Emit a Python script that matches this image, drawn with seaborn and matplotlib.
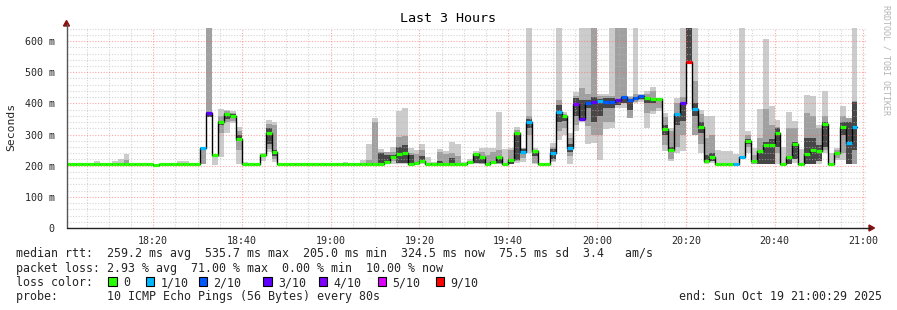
import matplotlib
matplotlib.use("Agg")
import matplotlib.pyplot as plt
from matplotlib.lines import Line2D
from matplotlib.patches import Polygon, Rectangle
import seaborn as sns
import numpy as np

# ---------------- data (one value per 80 s step, starting 18:00:00) ----------------
step_minutes = 80 / 60
start_offset = 29 / 60          # graph starts at 18:00:29

median = [
    205, 205, 205, 205, 205, 205, 205, 205, 205, 205,
    205, 204, 205, 205, 205, 203, 205, 205, 205, 205,
    205, 205, 205, 258, 370, 234, 339, 365, 359, 287,
    205, 205, 205, 233, 304, 245, 205, 205, 205, 205,
    205, 205, 205, 205, 205, 205, 206, 205, 204, 205,
    205, 205, 205, 206, 211, 229, 236, 242, 205, 208,
    215, 205, 205, 205, 205, 205, 205, 205, 211, 236,
    229, 205, 211, 229, 205, 218, 304, 245, 339, 247,
    205, 205, 242, 371, 359, 258, 397, 351, 400, 405,
    409, 405, 405, 411, 420, 411, 418, 423, 417, 413,
    413, 317, 251, 366, 402, 533, 381, 325, 216, 229,
    205, 205, 205, 205, 229, 279, 215, 248, 266, 266,
    306, 207, 229, 269, 207, 236, 250, 247, 334, 205,
    240, 323, 274, 323, None]

loss = [
    0, 0, 0, 0, 0, 0, 0, 0, 0, 0,
    0, 0, 0, 0, 0, 0, 0, 0, 0, 0,
    0, 0, 0, 1, 3, 0, 0, 0, 0, 0,
    0, 0, 0, 0, 0, 0, 0, 0, 0, 0,
    0, 0, 0, 0, 0, 0, 0, 0, 0, 0,
    0, 0, 0, 0, 0, 0, 0, 0, 0, 0,
    0, 0, 0, 0, 0, 0, 0, 0, 0, 0,
    0, 0, 0, 0, 0, 0, 0, 1, 1, 0,
    0, 0, 1, 1, 0, 1, 4, 3, 2, 3,
    1, 2, 2, 3, 2, 2, 2, 2, 0, 0,
    0, 0, 0, 1, 3, 9, 1, 0, 0, 0,
    0, 0, 0, 1, 1, 0, 0, 0, 0, 0,
    0, 0, 0, 0, 0, 0, 0, 0, 0, 0,
    0, 0, 1, 1, 0]

smoke_lo = [
    204, 204, 204, 204, 204, 204, 204, 204, 204, 204,
    204, 203, 204, 204, 204, 202, 204, 204, 204, 204,
    204, 204, 204, 204, 356, 203, 229, 306, 336, 205,
    204, 204, 204, 216, 245, 213, 204, 204, 204, 204,
    204, 204, 204, 204, 204, 204, 204, 204, 203, 204,
    204, 204, 204, 204, 205, 205, 205, 205, 204, 204,
    204, 204, 204, 204, 204, 204, 204, 204, 205, 205,
    205, 204, 205, 205, 204, 205, 210, 211, 240, 205,
    204, 204, 211, 282, 300, 204, 311, 340, 271, 273,
    218, 319, 320, 385, 385, 354, 400, 405, 320, 365,
    376, 247, 214, 240, 247, 533, 298, 240, 204, 210,
    204, 204, 204, 204, 225, 240, 204, 205, 205, 205,
    204, 204, 205, 210, 204, 205, 205, 205, 240, 204,
    218, 218, 205, 205, None]

smoke_hi = [
    207, 207, 207, 207, 207, 215, 207, 207, 215, 221,
    238, 206, 207, 207, 207, 205, 207, 207, 207, 214,
    216, 207, 207, 260, 650, 236, 381, 378, 374, 324,
    211, 207, 207, 240, 347, 339, 207, 207, 207, 207,
    207, 208, 207, 207, 207, 207, 210, 212, 206, 207,
    218, 269, 352, 253, 243, 261, 376, 385, 258, 250,
    269, 228, 212, 253, 246, 277, 269, 212, 223, 246,
    258, 258, 258, 373, 252, 258, 323, 258, 650, 258,
    207, 207, 273, 650, 373, 304, 437, 650, 650, 650,
    430, 430, 650, 650, 650, 425, 650, 430, 440, 451,
    418, 370, 320, 418, 650, 650, 650, 379, 361, 361,
    250, 248, 247, 239, 650, 312, 257, 381, 606, 390,
    346, 260, 371, 343, 254, 427, 423, 332, 440, 240,
    256, 392, 354, 650, None]

# inner smoke layers: step index -> (low, high)
mid_band = {
    10: (205, 218), 23: (206, 258), 24: (362, 650), 26: (306, 360), 27: (340, 375),
    28: (345, 370), 29: (250, 310), 34: (255, 335), 35: (220, 330), 51: (205, 218),
    52: (206, 340), 53: (208, 245), 54: (207, 243), 55: (215, 245), 56: (208, 293),
    57: (208, 296), 58: (206, 240), 59: (206, 236), 60: (208, 250), 63: (205, 245),
    64: (205, 236), 65: (206, 242), 66: (206, 230), 70: (207, 245), 71: (206, 235),
    72: (207, 245), 73: (207, 250), 75: (206, 250), 76: (215, 315), 77: (225, 256),
    78: (300, 361), 79: (210, 250), 82: (215, 260), 83: (310, 410), 84: (320, 365),
    85: (230, 290), 86: (330, 425), 87: (345, 450), 88: (326, 430), 89: (300, 650),
    90: (300, 425), 91: (340, 425), 92: (340, 425), 93: (411, 650), 94: (420, 650),
    95: (354, 420), 96: (405, 430), 97: (410, 428), 98: (370, 430), 99: (376, 440),
    100: (385, 415), 101: (265, 355), 102: (220, 310), 103: (260, 400), 104: (300, 420),
    105: (533, 650), 106: (298, 473), 107: (270, 365), 108: (210, 290), 109: (215, 300),
    115: (260, 300), 116: (206, 235), 117: (205, 290), 118: (230, 381), 119: (230, 330),
    120: (240, 325), 122: (210, 320), 123: (240, 320), 125: (220, 370), 126: (215, 360),
    127: (215, 320), 128: (250, 360), 130: (225, 250), 131: (240, 360), 132: (206, 354),
    133: (206, 407)}

core_band = {
    24: (356, 372), 26: (330, 345), 27: (350, 370), 28: (352, 365), 29: (280, 300),
    34: (270, 320), 35: (230, 250), 52: (204, 210), 53: (210, 240), 54: (215, 235),
    55: (220, 235), 56: (210, 260), 57: (210, 265), 58: (210, 235), 60: (212, 230),
    62: (205, 210), 63: (205, 215), 65: (206, 225), 69: (210, 236), 70: (208, 225),
    73: (208, 229), 75: (207, 220), 76: (218, 304), 77: (240, 255), 78: (320, 350),
    79: (230, 245), 82: (220, 255), 83: (340, 395), 84: (345, 362), 85: (245, 270),
    86: (358, 418), 87: (350, 410), 88: (385, 410), 89: (340, 420), 90: (360, 415),
    91: (385, 418), 92: (385, 418), 93: (395, 411), 94: (400, 420), 95: (380, 411),
    96: (410, 420), 97: (415, 425), 98: (400, 420), 99: (400, 415), 101: (300, 330),
    102: (245, 260), 103: (330, 370), 104: (345, 402), 105: (533, 650), 106: (360, 400),
    107: (305, 340), 108: (212, 235), 109: (215, 240), 115: (270, 285), 117: (205, 248),
    118: (205, 275), 119: (207, 285), 120: (260, 320), 122: (207, 232), 123: (222, 277),
    125: (207, 290), 126: (207, 290), 127: (215, 265), 128: (260, 340), 131: (300, 340),
    132: (206, 340), 133: (250, 405)}

loss_levels = [0, 1, 2, 3, 4, 5, 9]
loss_labels = ["0", "1/10", "2/10", "3/10", "4/10", "5/10", "9/10"]
loss_colors = ["#26ff00", "#00b8ff", "#0059ff", "#5e00ff", "#7e00ff", "#dd00ff", "#ff0000"]

x_tick_minutes = [20, 40, 60, 80, 100, 120, 140, 160, 180]
x_tick_labels = ["18:20", "18:40", "19:00", "19:20", "19:40", "20:00", "20:20", "20:40", "21:00"]
y_tick_values = [0, 100, 200, 300, 400, 500, 600]
y_tick_labels = ["0", "100 m", "200 m", "300 m", "400 m", "500 m", "600 m"]

title = "Last 3 Hours"
legend_rtt = "median rtt:  259.2 ms avg  535.7 ms max  205.0 ms min  324.5 ms now  75.5 ms sd  3.4   am/s"
legend_loss = "packet loss: 2.93 % avg  71.00 % max  0.00 % min  10.00 % now"
legend_probe = "probe:       10 ICMP Echo Pings (56 Bytes) every 80s"
legend_end = "end: Sun Oct 19 21:00:29 2025"

# ---------------- figure ----------------
sns.set_style("white")
plt.rcParams["font.family"] = ["DejaVu Sans Mono", "DejaVu Sans"]

W, H = 897, 310
fig = plt.figure(figsize=(W / 100, H / 100), dpi=100, facecolor="white")


def fx(px):
    return px / W


def fy(py):
    return 1 - py / H


ax = fig.add_axes([fx(66.5), fy(228), 799 / W, 199.7 / H])
ax.set_facecolor("white")
ax.set_xlim(start_offset, 180 + start_offset)
ax.set_ylim(0, 641)

n = len(median)
valid = [k for k in range(n) if median[k] is not None]
left = np.array([k * step_minutes for k in valid])

# smoke: outer range
lo = np.array([smoke_lo[k] for k in valid], float)
hi = np.array([smoke_hi[k] for k in valid], float)
ax.bar(left, hi - lo, bottom=lo, width=step_minutes, align="edge",
       color="#cccccc", linewidth=0, antialiased=False, zorder=1)
# middle layer
mk = sorted(mid_band)
ax.bar([k * step_minutes for k in mk], [mid_band[k][1] - mid_band[k][0] for k in mk],
       bottom=[mid_band[k][0] for k in mk], width=step_minutes, align="edge",
       color="#a0a0a0", linewidth=0, antialiased=False, zorder=1.1)
# core layer
ck = sorted(core_band)
ax.bar([k * step_minutes for k in ck], [core_band[k][1] - core_band[k][0] for k in ck],
       bottom=[core_band[k][0] for k in ck], width=step_minutes, align="edge",
       color="#464646", linewidth=0, antialiased=False, zorder=1.2)

# median connector line (black steps)
med = np.array([median[k] for k in valid], float)
xs = np.append(left, left[-1] + step_minutes)
ys = np.append(med, med[-1])
sns.lineplot(x=xs, y=ys, ax=ax, color="black", lw=1.0, drawstyle="steps-post",
             estimator=None, sort=False, zorder=3)

# coloured median segments by loss
def loss_color(l):
    col = loss_colors[0]
    for lev, c in zip(loss_levels, loss_colors):
        if l >= lev:
            col = c
    return col

seg_colors = [loss_color(loss[k]) for k in valid]
ax.hlines(med, left, left + step_minutes, colors=seg_colors, lw=2.3, zorder=4,
          capstyle="butt")

# grid
ax.set_xticks(x_tick_minutes)
ax.set_xticklabels(x_tick_labels)
ax.set_xticks(np.arange(5, 181, 5), minor=True)
ax.set_yticks(y_tick_values)
ax.set_yticklabels(y_tick_labels)
ax.set_yticks(np.arange(20, 641, 20), minor=True)
ax.set_axisbelow(False)
ax.grid(which="minor", color="#bababa", alpha=0.6, lw=0.8, linestyle=(0, (1, 1.5)))
ax.grid(which="major", color="#ff6060", alpha=0.55, lw=0.8, linestyle=(0, (1, 1.5)))
for s in ax.spines.values():
    s.set_visible(False)
ax.tick_params(axis="both", which="major", labelsize=7.2, length=2.5, width=0.8,
               color="#888888", pad=4)
ax.tick_params(axis="both", which="minor", length=1.5, width=0.6, color="#aaaaaa")
ax.tick_params(axis="y", pad=6)
ax.tick_params(axis="x", pad=3)

# axes lines and arrows
fig.add_artist(Line2D([fx(66.5), fx(66.5)], [fy(228), fy(24)], color="#555555", lw=1.0))
fig.add_artist(Line2D([fx(66.5), fx(870)], [fy(228), fy(228)], color="#222222", lw=1.0))
fig.add_artist(Polygon([[fx(63.5), fy(26)], [fx(69.5), fy(26)], [fx(66.5), fy(20.5)]],
                       closed=True, color="#8b1010", transform=fig.transFigure))
fig.add_artist(Polygon([[fx(869), fy(225)], [fx(869), fy(231)], [fx(874.5), fy(228)]],
                       closed=True, color="#8b1010", transform=fig.transFigure))

# texts
fig.text(fx(448), fy(19), title, ha="center", va="center", fontsize=9.6, color="black")
fig.text(fx(11), fy(127), "Seconds", ha="center", va="center", rotation=90, fontsize=8.2)
fig.text(fx(886), fy(60), "RRDTOOL / TOBI OETIKER", ha="center", va="center",
         rotation=270, fontsize=6.0, color="#b4b4b4")

leg_fs = 8.35
fig.text(fx(16), fy(254), legend_rtt, ha="left", va="center", fontsize=leg_fs)
fig.text(fx(16), fy(268.3), legend_loss, ha="left", va="center", fontsize=leg_fs)
fig.text(fx(16), fy(282.7), "loss color:", ha="left", va="center", fontsize=leg_fs)
box_x = [108.3, 146, 199, 263.3, 319, 378, 435.5]
for bx, lab, col in zip(box_x, loss_labels, loss_colors):
    fig.add_artist(Rectangle((fx(bx), fy(286)), 8.4 / W, 8.6 / H, facecolor=col,
                             edgecolor="black", lw=0.8, transform=fig.transFigure))
    fig.text(fx(bx + 14.5), fy(282.7), lab, ha="left", va="center", fontsize=leg_fs)
fig.text(fx(16), fy(296.7), legend_probe, ha="left", va="center", fontsize=leg_fs)
fig.text(fx(882), fy(296.7), legend_end, ha="right", va="center", fontsize=leg_fs)

fig.savefig("out.png", dpi=100, facecolor="white")
